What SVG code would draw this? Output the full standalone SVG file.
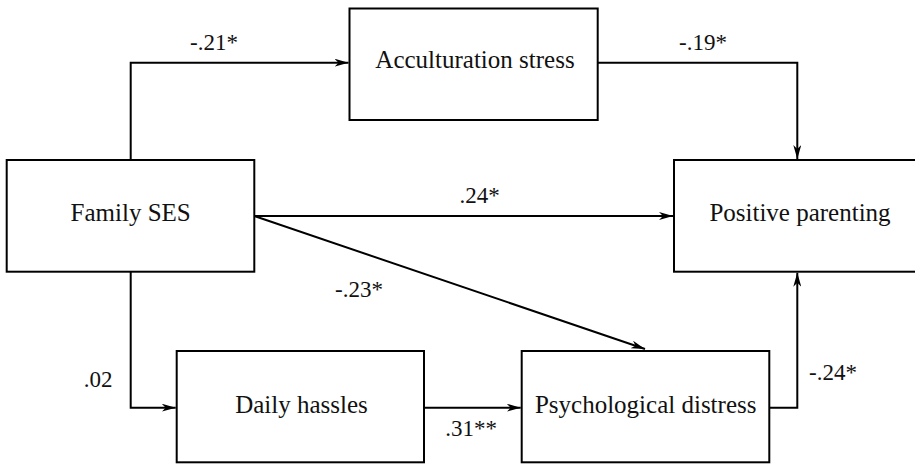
<svg xmlns="http://www.w3.org/2000/svg" width="915" height="464" viewBox="0 0 915 464">
<defs>
<marker id="arr" markerWidth="14" markerHeight="8" refX="14" refY="4" orient="auto" markerUnits="userSpaceOnUse">
<path d="M0,0 L14,4 L0,8 L4,4 Z" fill="#000"/>
</marker>
</defs>
<style>
.box{fill:#fff;stroke:#000;stroke-width:2}
.edge{fill:none;stroke:#000;stroke-width:2;marker-end:url(#arr)}
</style>
<rect width="915" height="464" fill="#fff"/>
<g id="connectors">
<path class="edge" d="M130.7,160 V62.7 H348.5"/>
<path class="edge" d="M597.7,62.7 H797.3 V159"/>
<path class="edge" d="M254.3,216 H673"/>
<path class="edge" d="M254.3,216 L645,349"/>
<path class="edge" d="M130.7,271.7 V407.7 H175.7"/>
<path class="edge" d="M424,407.7 H520.7"/>
<path class="edge" d="M769.3,407.7 H797.3 V272.7"/>
</g>
<g id="labels" font-family="Liberation Serif, serif" font-size="23" fill="#111" text-anchor="middle">
<text x="214" y="50">-.21*</text>
<text x="703" y="50">-.19*</text>
<text x="479.5" y="203">.24*</text>
<text x="359" y="297">-.23*</text>
<text x="98" y="387">.02</text>
<text x="471" y="436">.31**</text>
<text x="833" y="380">-.24*</text>
</g>
<g font-family="Liberation Serif, serif" font-size="25" fill="#111" text-anchor="middle">
<g id="acculturation">
<rect class="box" x="349.5" y="8.5" width="248.2" height="111.5"/>
<text x="475" y="68">Acculturation stress</text>
</g>
<g id="family-ses">
<rect class="box" x="6.7" y="160" width="247.6" height="111.7"/>
<text x="130.7" y="221">Family SES</text>
</g>
<g id="positive-parenting">
<rect class="box" x="674" y="160" width="260" height="111.7"/>
<text x="800" y="221">Positive parenting</text>
</g>
<g id="daily-hassles">
<rect class="box" x="176.7" y="351" width="247.3" height="111.3"/>
<text x="301.5" y="413">Daily hassles</text>
</g>
<g id="psych-distress">
<rect class="box" x="521.7" y="351" width="247.6" height="111.3"/>
<text x="645.7" y="413">Psychological distress</text>
</g>
</g>
</svg>
